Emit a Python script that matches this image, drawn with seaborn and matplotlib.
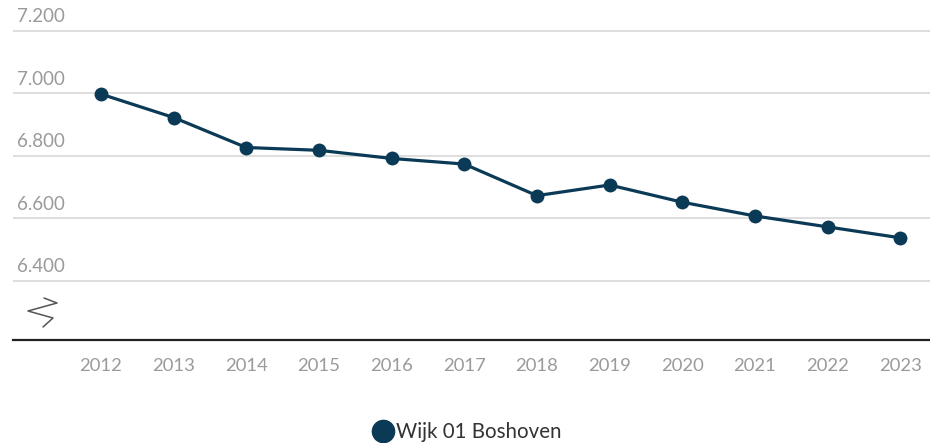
import pandas as pd
import seaborn as sns
import matplotlib.pyplot as plt
from matplotlib.lines import Line2D

# data
years = [2012, 2013, 2014, 2015, 2016, 2017, 2018, 2019, 2020, 2021, 2022, 2023]
inwoners = [6998, 6923, 6827, 6818, 6792, 6774, 6673, 6707, 6652, 6608, 6573, 6538]
series_name = 'Wijk 01 Boshoven'
y_ticks = [6400, 6600, 6800, 7000, 7200]
y_labels = ['6.400', '6.600', '6.800', '7.000', '7.200']

navy = '#0b3a56'
grey_txt = '#9a9a9a'

sns.set_style('white')
plt.rcParams['font.family'] = ['Lato', 'DejaVu Sans']

df = pd.DataFrame({'jaar': years, 'aantal': inwoners})

fig = plt.figure(figsize=(9.3, 4.43), dpi=100)
ax = fig.add_axes([13/930, 103/443, 917/930, 320/443])

sns.lineplot(data=df, x='jaar', y='aantal', ax=ax, color=navy, linewidth=2.3,
             marker='o', markersize=10, markeredgewidth=0, zorder=3)

ax.set_xlim(2012 - 1.21, 2023 + 0.41)
ax.set_ylim(6211, 7235)

# gridlines + y labels above them
for v, lab in zip(y_ticks, y_labels):
    ax.axhline(v, color='#dedede', linewidth=1.4, zorder=1)
    ax.annotate(lab, xy=(0, v), xycoords=ax.get_yaxis_transform(),
                xytext=(3, 4), textcoords='offset points',
                ha='left', va='bottom', fontsize=13.5, color=grey_txt)
ax.set_yticks([])

ax.set_xticks(years)
ax.set_xticklabels([str(y) for y in years], fontsize=13.3, color=grey_txt)
ax.tick_params(axis='x', length=0, pad=13)
ax.set_xlabel('')
ax.set_ylabel('')

for s in ['top', 'right', 'left']:
    ax.spines[s].set_visible(False)
ax.spines['bottom'].set_color('#222222')
ax.spines['bottom'].set_linewidth(1.6)

# axis break sign
zx = [44, 57, 28, 53, 43]
zy = [298, 303, 311, 318, 327]
fig.add_artist(Line2D([x/930 for x in zx], [1 - y/443 for y in zy],
                      color='#555555', linewidth=1.1, transform=fig.transFigure))

handle = Line2D([], [], color=navy, marker='o', linestyle='', markersize=16)
fig.legend([handle], [series_name], loc='center', bbox_to_anchor=(467/930, 1 - 432/443),
           frameon=False, fontsize=14.8, handletextpad=0.1, handlelength=1.0,
           labelcolor='#333333')

fig.savefig('out.png', dpi=100)
